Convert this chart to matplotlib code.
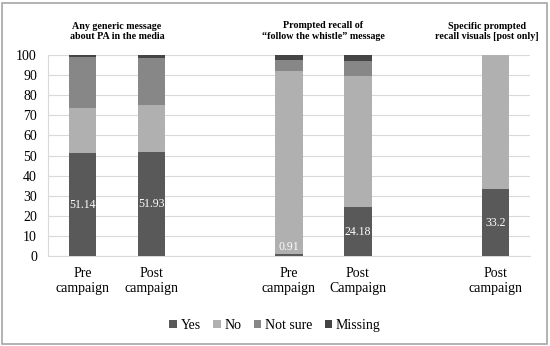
import numpy as np
import matplotlib as mpl
mpl.use('Agg')
import matplotlib.pyplot as plt
from matplotlib.patches import Rectangle

plt.rcParams['font.family'] = ['Liberation Serif', 'DejaVu Serif']

# positions of the five bars (gaps between groups)
positions = [0, 1, 3, 4, 6]
bar_labels = ["Pre\ncampaign", "Post\ncampaign", "Pre\ncampaign", "Post\nCampaign", "Post\ncampaign"]

yes = [51.14, 51.93, 0.91, 24.18, 33.2]
no = [22.4, 23.1, 91.3, 65.4, 66.8]
not_sure = [25.4, 23.5, 5.3, 7.6, 0]
missing = [1.06, 1.47, 2.49, 2.82, 0]

series_names = ["Yes", "No", "Not sure", "Missing"]
series_colors = ["#595959", "#b0b0b0", "#878787", "#454545"]

group_titles = ["Any generic message\nabout PA in the media",
                "Prompted recall of\n\u201cfollow the whistle\u201d message",
                "Specific prompted\nrecall visuals [post only]"]
title_x = [0.5, 3.5, 5.88]

fig = plt.figure(figsize=(5.5, 3.46), dpi=100)
ax = fig.add_axes([0.0873, 0.26, 0.8763, 0.581])

bottom = np.zeros(len(positions))
for vals, name, col in zip([yes, no, not_sure, missing], series_names, series_colors):
    ax.bar(positions, vals, width=0.4, bottom=bottom, color=col, label=name, zorder=3)
    bottom += np.array(vals)

for x, v in zip(positions, yes):
    ypos = v / 2 if v > 5 else 4.5
    ax.text(x, ypos, f"{v:g}", color="white", ha="center", va="center", fontsize=8.5, zorder=4)

ax.set_xlim(-0.5, 6.5)
ax.set_ylim(0, 100)
ax.set_yticks(range(0, 101, 10))
ax.tick_params(axis='y', labelsize=10, length=0, pad=8)
ax.set_xticks(positions)
ax.set_xticklabels(bar_labels, fontsize=10, linespacing=1.2)
ax.tick_params(axis='x', length=0, pad=8)
ax.grid(axis='y', color="#d9d9d9", linewidth=0.8, zorder=0)
for s in ['top', 'right']:
    ax.spines[s].set_visible(False)
ax.spines['left'].set_color("#d9d9d9")
ax.spines['bottom'].set_color("#d9d9d9")

for tx, t in zip(title_x, group_titles):
    ax.text(tx, 107, t, ha="center", va="bottom", fontsize=7.2, fontweight="bold",
            transform=ax.transData, linespacing=1.2)

fig.legend(loc="center", bbox_to_anchor=(0.5, 0.06), ncol=4, frameon=False, fontsize=10,
           handlelength=0.55, handleheight=0.55, handletextpad=0.25, columnspacing=0.9)

fig.patches.append(Rectangle((0.004, 0.006), 0.99, 0.985, transform=fig.transFigure,
                             fill=False, edgecolor="#a6a6a6", linewidth=1.2))

plt.savefig("out.png", dpi=100)
